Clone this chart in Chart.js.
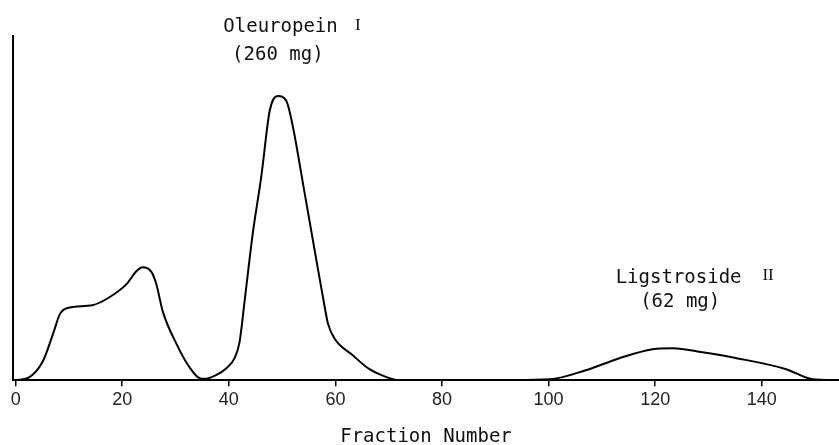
<!DOCTYPE html>
<html>
<head>
<meta charset="utf-8">
<script src="https://cdn.jsdelivr.net/npm/chart.js@4"></script>
<style>
  html, body { margin: 0; padding: 0; background: #fff; }
  canvas { display: block; }
</style>
</head>
<body>
<canvas id="elutionChart" width="839" height="445"></canvas>
<script>
// Fraction number (x) and detector response (y, arbitrary units, top of axis = 100)
const fractions = [0, 2.6, 5.1, 7, 8.3, 9.6, 14.4, 17.6, 20.8, 22.7, 23.8, 25.5, 26.4, 27.6, 30.2, 32.6, 34.5, 35.5,
    37.5, 39.5, 41.1, 42, 43, 44.5, 46.1, 47.7, 49.2, 50.8, 52, 54, 56, 58, 58.6, 59.8, 63.2, 66.4, 69.6, 72,
    85, 100.2, 107, 113.3, 119.5, 123.3, 128.9, 135.3, 144.6, 149.5, 154.5];
const response = [0, 0.9, 5.5, 13.4, 19.2, 20.9, 21.8, 24.1, 27.9, 31.7, 32.8, 31.4, 27.9, 20, 10.5, 3.8, 0.6, 0.4,
    1.4, 3.4, 6.5, 11, 23.5, 42.7, 59.3, 78.5, 82.6, 81.1, 73.8, 56.4, 38.7, 21.2, 16.5, 12.2, 7.3, 3.2, 0.9, 0,
    0, 0.3, 2.9, 6.4, 9, 9.3, 8.1, 6.4, 3.2, 0.3, 0];
const xTicks = [0, 20, 40, 60, 80, 100, 120, 140];

// Peak labels
const peakNames = ['Oleuropein', 'Ligstroside'];
const peakAmounts = ['(260 mg)', '(62 mg)'];
const peakNumerals = ['I', 'II'];

const monoFont = '"DejaVu Sans Mono", monospace';

const points = fractions.map((f, i) => ({ x: f, y: response[i] }));

// Draws the compound names above the peaks
const peakLabels = {
    id: 'peakLabels',
    afterDraw(chart) {
        const ctx = chart.ctx;
        const xs = chart.scales.x;
        const bottom = chart.chartArea.bottom;
        // name centre (fraction), name baseline, amount centre, amount baseline, numeral x, numeral baseline
        const spots = [
            { name: 49.7, nameY: 348, amt: 49.2, amtY: 320, num: 64.2, numY: 350 },
            { name: 124.4, nameY: 97, amt: 124.7, amtY: 73, num: 141.2, numY: 100 }
        ];
        ctx.save();
        ctx.fillStyle = '#111';
        ctx.textAlign = 'center';
        ctx.textBaseline = 'alphabetic';
        spots.forEach((s, i) => {
            ctx.font = '19px ' + monoFont;
            ctx.fillText(peakNames[i], xs.getPixelForValue(s.name), bottom - s.nameY);
            ctx.fillText(peakAmounts[i], xs.getPixelForValue(s.amt), bottom - s.amtY);
            ctx.font = '17px "Liberation Serif", serif';
            ctx.fillText(peakNumerals[i], xs.getPixelForValue(s.num), bottom - s.numY);
        });
        ctx.restore();
    }
};

new Chart(document.getElementById('elutionChart').getContext('2d'), {
    type: 'line',
    data: {
        datasets: [{
            data: points,
            borderColor: '#000',
            borderWidth: 2,
            pointRadius: 0,
            fill: false,
            cubicInterpolationMode: 'monotone'
        }]
    },
    options: {
        responsive: false,
        animation: false,
        devicePixelRatio: 1,
        layout: { padding: { left: 13, top: 36, right: 0, bottom: 0 } },
        plugins: { legend: { display: false }, tooltip: { enabled: false } },
        scales: {
            x: {
                type: 'linear',
                min: -0.5,
                max: 154.5,
                afterBuildTicks: (scale) => { scale.ticks = xTicks.map(v => ({ value: v })); },
                border: { display: true, color: '#000', width: 2 },
                grid: { drawOnChartArea: false, drawTicks: true, tickLength: 6, color: '#000', lineWidth: 1.5 },
                ticks: {
                    color: '#222',
                    padding: 3,
                    maxRotation: 0,
                    autoSkip: false,
                    font: { family: '"Liberation Sans Narrow", "Liberation Sans", sans-serif', size: 18 }
                },
                title: {
                    display: true,
                    text: 'Fraction Number',
                    color: '#111',
                    font: { family: monoFont, size: 19, lineHeight: 0.8 },
                    padding: { top: 16, bottom: 0 }
                }
            },
            y: {
                min: 0,
                max: 100,
                border: { display: true, color: '#000', width: 2 },
                grid: { display: false, drawTicks: false },
                ticks: { display: false }
            }
        }
    },
    plugins: [peakLabels]
});
</script>
</body>
</html>
